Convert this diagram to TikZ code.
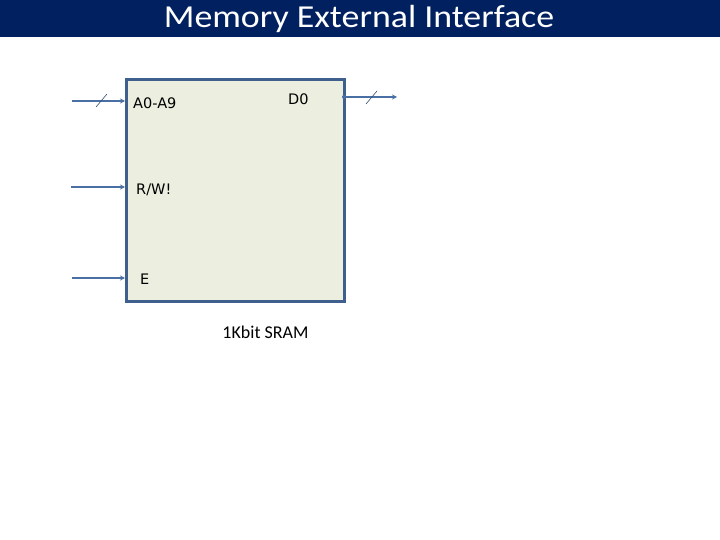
\documentclass[tikz,border=0pt]{standalone}
\usepackage{fontspec}
\setmainfont{Carlito}
\newfontfamily\lblfont{DejaVu Sans}
\usetikzlibrary{arrows.meta}
\definecolor{titlebg}{HTML}{002060}
\definecolor{boxborder}{HTML}{3F5F8C}
\definecolor{boxfill}{HTML}{ECEEE0}
\definecolor{wire}{HTML}{4A6FA5}
\tikzset{
  wirestyle/.style={draw=wire, line width=2pt, -{Stealth[length=5pt,width=5pt]}},
  slashstyle/.style={draw=wire!70!black, line width=0.6pt},
  pinlabel/.style={font=\lblfont\fontsize{14.5}{16}\selectfont, text=black, inner sep=0pt, anchor=west},
}
\begin{document}
\begin{tikzpicture}[x=1pt,y=-1pt]
\useasboundingbox (0,0) rectangle (720,540);
\fill[white] (0,0) rectangle (720,540);
\fill[titlebg] (0,0) rectangle (720,37);
\node[text=white, font=\fontsize{32}{34}\selectfont, inner sep=0pt, anchor=base] (title) at (359,28) {\scalebox{1.12}[1]{Memory External Interface}};
\node[draw=boxborder, fill=boxfill, line width=3pt, minimum width=218pt, minimum height=222pt, inner sep=0pt, anchor=north west] (box) at (125,78) {};
% pins
\coordinate (ain) at (72,101);
\coordinate (aend) at (125,101);
\coordinate (rwin) at (71,187);
\coordinate (rwend) at (125,187);
\coordinate (ein) at (72,278);
\coordinate (eend) at (125,278);
\coordinate (dstart) at (344,97);
\coordinate (dout) at (397,97);
\draw[wirestyle] (ain) -- (aend);
\draw[wirestyle] (rwin) -- (rwend);
\draw[wirestyle] (ein) -- (eend);
\draw[wirestyle] (dstart) -- (dout);
\fill[wire] (dstart) circle (2pt);
% bus slashes
\coordinate (s1a) at (96,107);
\coordinate (s1b) at (107,94);
\coordinate (s2a) at (366,104);
\coordinate (s2b) at (377,91);
\draw[slashstyle] (s1a) -- (s1b);
\draw[slashstyle] (s2a) -- (s2b);
% labels
\node[pinlabel] (la) at (133,103) {A0-A9};
\node[pinlabel] (ld) at (288,99) {D0};
\node[pinlabel] (lrw) at (136,190) {R/W!};
\node[pinlabel] (le) at (140,279) {E};
\node[font=\fontsize{18}{20}\selectfont, inner sep=0pt] (sram) at (265.5,332) {1Kbit SRAM};
\end{tikzpicture}
\end{document}
